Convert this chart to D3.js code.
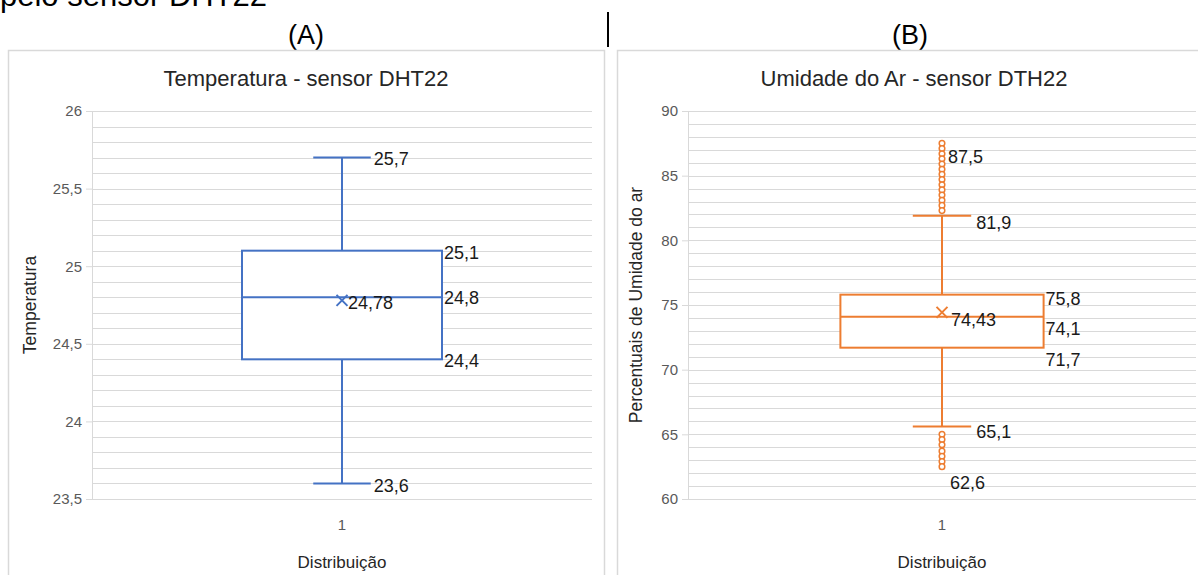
<!DOCTYPE html>
<html>
<head>
<meta charset="utf-8">
<script src="https://cdn.jsdelivr.net/npm/d3@7/dist/d3.min.js"></script>
<style>
  html, body { margin: 0; padding: 0; background: #fff; }
  svg { display: block; font-family: "Liberation Sans", Arial, sans-serif; }
</style>
</head>
<body>
<svg id="chart" width="1198" height="575"></svg>
<script>
// ---------- DATA ----------
const categories = ["1"];

// Panel A: Temperatura (min whisker, Q1, median, Q3, max whisker)
const tempStats = [23.6, 24.4, 24.8, 25.1, 25.7];
const tempMean = [24.78];
const tempTicks = [23.5, 24, 24.5, 25, 25.5, 26];
const tempTickLabels = ["23,5", "24", "24,5", "25", "25,5", "26"];
const tempLabelTexts = ["25,7", "25,1", "24,8", "24,4", "24,78", "23,6"];
const tempLabelValues = [25.7, 25.1, 24.8, 24.4, 24.78, 23.6];

// Panel B: Umidade do ar
const humStats = [65.6, 71.7, 74.1, 75.8, 81.9];
const humMean = [74.43];
const humOutliersHigh = [87.5, 87.1, 86.7, 86.3, 85.9, 85.5, 85.1, 84.7, 84.3, 83.9, 83.5, 83.1, 82.7, 82.3];
const humOutliersLow = [65.0, 64.6, 64.2, 63.7, 63.3, 62.9, 62.5];
const humTicks = [60, 65, 70, 75, 80, 85, 90];
const humTickLabels = ["60", "65", "70", "75", "80", "85", "90"];
const humLabelTexts = ["87,5", "81,9", "75,8", "74,43", "74,1", "71,7", "65,1", "62,6"];
const humLabelValues = [87.5, 81.9, 75.8, 74.43, 74.1, 71.7, 65.6, 62.5];

// ---------- LAYOUT / STYLE ----------
const svg = d3.select("#chart");
svg.append("rect").attr("width", 1198).attr("height", 575).attr("fill", "#fff");

// heading remnants
svg.append("text").attr("x", 0).attr("y", 6).attr("font-size", 31).attr("fill", "#000")
  .text("pelo sensor DHT22");
svg.append("text").attr("x", 306).attr("y", 44).attr("text-anchor", "middle").attr("font-size", 27).attr("fill", "#000").text("(A)");
svg.append("text").attr("x", 910).attr("y", 44).attr("text-anchor", "middle").attr("font-size", 27).attr("fill", "#000").text("(B)");
svg.append("line").attr("x1", 608).attr("x2", 608).attr("y1", 12).attr("y2", 47).attr("stroke", "#000").attr("stroke-width", 2);

function panel(cfg) {
  const g = svg.append("g");
  g.append("rect").attr("x", cfg.frame[0] + 0.5).attr("y", cfg.frame[1] + 0.5)
    .attr("width", cfg.frame[2]).attr("height", cfg.frame[3])
    .attr("fill", "#fff").attr("stroke", "#d9d9d9").attr("stroke-width", 1.5);

  const y = d3.scaleLinear().domain(cfg.domain).range([cfg.plot.bottom, cfg.plot.top]);
  const x = d3.scaleBand().domain(categories).range([cfg.plot.left, cfg.plot.right]).padding(0);
  const bw = x.bandwidth();
  const cx = x(categories[0]) + bw / 2;

  // minor gridlines
  const minorTicks = d3.range(cfg.domain[0], cfg.domain[1] + cfg.minor / 2, cfg.minor);
  g.append("g").selectAll("line").data(minorTicks).join("line")
    .attr("x1", cfg.plot.left).attr("x2", cfg.plot.right)
    .attr("y1", d => Math.round(y(d)) + 0.5).attr("y2", d => Math.round(y(d)) + 0.5)
    .attr("stroke", "#d9d9d9").attr("stroke-width", 1);

  // y axis
  const axis = d3.axisLeft(y).tickValues(cfg.ticks).tickFormat((d, i) => cfg.tickLabels[i]).tickSize(6).tickPadding(4);
  const ag = g.append("g").attr("transform", `translate(${cfg.plot.left},0)`).call(axis);
  ag.select(".domain").attr("stroke", "#d9d9d9");
  ag.selectAll(".tick line").attr("stroke", "#d9d9d9");
  ag.selectAll(".tick text").attr("fill", "#595959").attr("font-size", 15)
    .attr("font-family", "'Liberation Sans', Arial, sans-serif");

  // category label
  g.append("text").attr("x", cx).attr("y", cfg.plot.bottom + 31).attr("text-anchor", "middle")
    .attr("fill", "#595959").attr("font-size", 15).text(categories[0]);

  // titles
  g.append("text").attr("x", cfg.titleX).attr("y", 86).attr("text-anchor", "middle")
    .attr("fill", "#262626").attr("font-size", 22).text(cfg.title);
  g.append("text").attr("x", cx).attr("y", 568).attr("text-anchor", "middle")
    .attr("fill", "#262626").attr("font-size", 17).text("Distribuição");
  g.append("text").attr("transform", `translate(${cfg.yTitleX},${(cfg.plot.top + cfg.plot.bottom) / 2}) rotate(-90)`)
    .attr("text-anchor", "middle").attr("fill", "#262626").attr("font-size", 17.5).text(cfg.yTitle);

  const s = cfg.stats;
  const boxW = bw * 0.4;
  const capW = bw * 0.115;
  const col = cfg.color;
  const mk = g.append("g").attr("stroke", col).attr("stroke-width", 2).attr("fill", "none");
  // whiskers
  mk.append("line").attr("x1", cx).attr("x2", cx).attr("y1", y(s[0])).attr("y2", y(s[1]));
  mk.append("line").attr("x1", cx).attr("x2", cx).attr("y1", y(s[3])).attr("y2", y(s[4]));
  [s[0], s[4]].forEach(v => {
    mk.append("line").attr("x1", cx - capW / 2).attr("x2", cx + capW / 2).attr("y1", y(v)).attr("y2", y(v));
  });
  // box
  mk.append("rect").attr("x", cx - boxW / 2).attr("y", y(s[3]))
    .attr("width", boxW).attr("height", y(s[1]) - y(s[3])).attr("fill", "#fff");
  mk.append("line").attr("x1", cx - boxW / 2).attr("x2", cx + boxW / 2).attr("y1", y(s[2])).attr("y2", y(s[2]));
  // mean marker
  cfg.mean.forEach(m => {
    const my = y(m), r = 5.5;
    mk.append("path").attr("d", `M${cx - r},${my - r}L${cx + r},${my + r}M${cx - r},${my + r}L${cx + r},${my - r}`);
  });
  // outliers
  const outs = cfg.outliers;
  g.append("g").selectAll("circle").data(outs).join("circle")
    .attr("cx", cx).attr("cy", d => y(d)).attr("r", 2.8)
    .attr("fill", "#fff").attr("stroke", col).attr("stroke-width", 1.5);

  // data labels
  const boxR = cx + boxW / 2, capR = cx + capW / 2;
  g.append("g").selectAll("text").data(cfg.labelTexts).join("text")
    .attr("x", (d, i) => {
      const a = cfg.labelAnchor[i];
      return (a[0] === "box" ? boxR : a[0] === "cap" ? capR : cx) + a[1];
    })
    .attr("y", (d, i) => y(cfg.labelValues[i]) + cfg.labelAnchor[i][2])
    .attr("dominant-baseline", "central")
    .attr("fill", "#1a1a1a").attr("font-size", 18).text(d => d);
}

panel({
  frame: [8, 50, 596, 540],
  plot: { left: 92, right: 592, top: 111, bottom: 499 },
  domain: [23.5, 26], minor: 0.1,
  ticks: tempTicks, tickLabels: tempTickLabels,
  title: "Temperatura - sensor DHT22", titleX: 306,
  yTitle: "Temperatura", yTitleX: 36,
  stats: tempStats, mean: tempMean, outliers: [],
  color: "#4472C4",
  labelTexts: tempLabelTexts, labelValues: tempLabelValues,
  labelAnchor: [["cap", 3, 1], ["box", 2, 2], ["box", 2, 1], ["box", 2, 2], ["c", 6, 3], ["cap", 3, 3]]
});

panel({
  frame: [617, 50, 600, 540],
  plot: { left: 688, right: 1196, top: 111, bottom: 499 },
  domain: [60, 90], minor: 1,
  ticks: humTicks, tickLabels: humTickLabels,
  title: "Umidade do Ar - sensor DTH22", titleX: 914,
  yTitle: "Percentuais de Umidade do ar", yTitleX: 642,
  stats: humStats, mean: humMean, outliers: humOutliersHigh.concat(humOutliersLow),
  color: "#ED7D31",
  labelTexts: humLabelTexts, labelValues: humLabelValues,
  labelAnchor: [["c", 6, 14], ["cap", 5, 7], ["box", 2, 4], ["c", 9, 8], ["box", 2, 12], ["box", 2, 12], ["cap", 5, 5], ["c", 8, 16]]
});
</script>
</body>
</html>
